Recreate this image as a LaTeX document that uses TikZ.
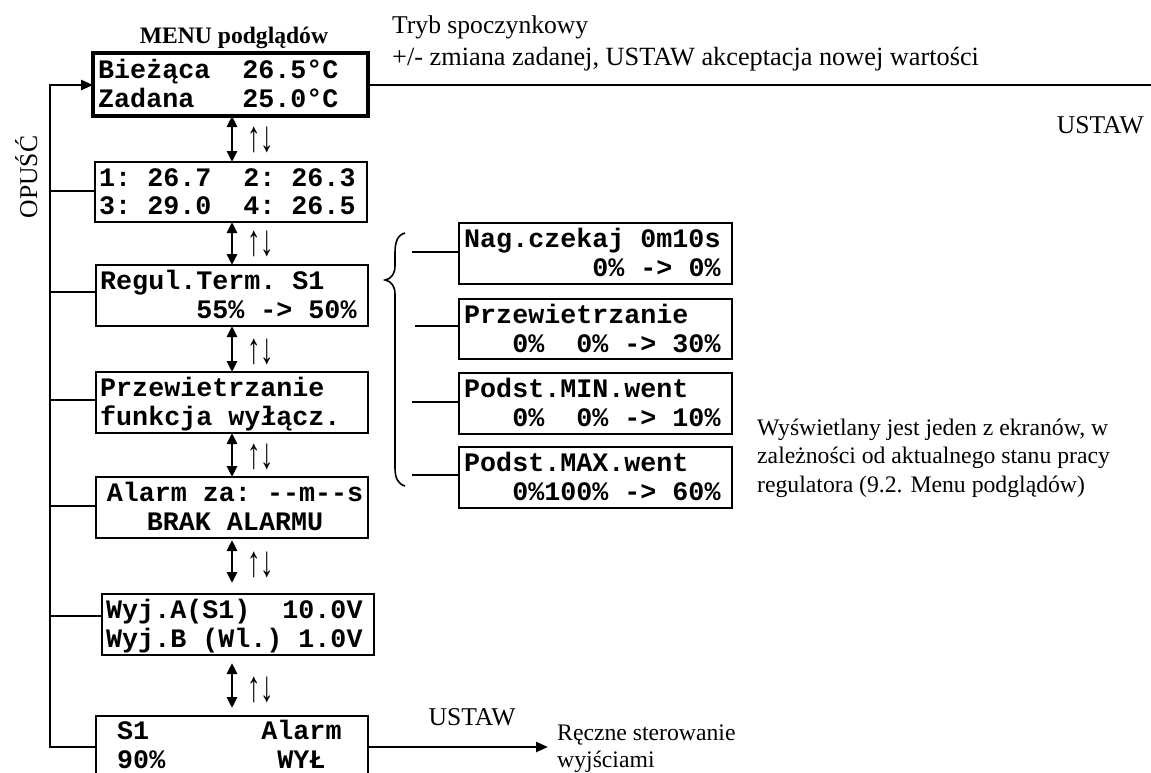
\documentclass[tikz,border=0pt]{standalone}
\usepackage{fontspec}
\setmainfont{Liberation Serif}
\newfontfamily\lcdfam{Liberation Mono}
\usetikzlibrary{arrows.meta}
\newcommand\fsz[1]{\fontsize{#1}{#1}\selectfont}
\newcommand\lcdfont{\lcdfam\bfseries\fontsize{26.7}{29}\selectfont}
\newcommand\updown{\scalebox{1.05}[1.7]{↑↓}}
\begin{document}
\begin{tikzpicture}[x=1pt,y=-1pt,
  lcdbox/.style={draw, line width=2.2pt, inner sep=0, outer sep=0, anchor=north west, minimum height=61pt, minimum width=272pt},
  lcdtxt/.style={font=\lcdfont, inner sep=0, anchor=base west},
  lbl/.style={font=\fsz{25.6}, inner sep=0, anchor=base west},
  small/.style={font=\fsz{23.7}, inner sep=0, anchor=base west},
  bus/.style={line width=2.4pt},
  dbl/.style={line width=2.8pt, {Triangle[length=11pt,width=10pt]}-{Triangle[length=11pt,width=10pt]}},
  updn/.style={font=\fsz{25.6}, inner sep=0, anchor=west},
  tip/.style={-{Triangle[length=12pt,width=10pt]}},
  thin/.style={line width=2pt},
]
\useasboundingbox (0,0) rectangle (1151,772);
\clip (0,0) rectangle (1151,772);

% left column boxes
\node[lcdbox, line width=3.3pt, minimum width=275pt, minimum height=63pt] (b1) at (93,53) {};
\node[lcdtxt] (b1a) at ([shift={(5,25)}]b1.north west) {Bieżąca~~26.5°C};
\node[lcdtxt] (b1b) at ([shift={(5,54)}]b1.north west) {Zadana~~~25.0°C};

\node[lcdbox, minimum height=60pt] (b2) at (95,162) {};
\node[lcdtxt] (b2a) at ([shift={(4,24)}]b2.north west) {1:~26.7~~2:~26.3};
\node[lcdtxt] (b2b) at ([shift={(4,52)}]b2.north west) {3:~29.0~~4:~26.5};

\node[lcdbox] (b3) at (96,265) {};
\node[lcdtxt] (b3a) at ([shift={(4,24)}]b3.north west) {Regul.Term.~S1};
\node[lcdtxt] (b3b) at ([shift={(4,53)}]b3.north west) {~~~~~~55\%~->~50\%};

\node[lcdbox] (b4) at (96,372) {};
\node[lcdtxt] (b4a) at ([shift={(4,24)}]b4.north west) {Przewietrzanie};
\node[lcdtxt] (b4b) at ([shift={(4,53)}]b4.north west) {funkcja~wyłącz.};

\node[lcdbox] (b5) at (96,477) {};
\node[lcdtxt, anchor=base] (b5a) at ([shift={(139,24)}]b5.north west) {Alarm~za:~-{}-m-{}-s};
\node[lcdtxt, anchor=base] (b5b) at ([shift={(139,53)}]b5.north west) {BRAK~ALARMU};

\node[lcdbox] (b6) at (102,594) {};
\node[lcdtxt] (b6a) at ([shift={(4,24)}]b6.north west) {Wyj.A(S1)~~10.0V};
\node[lcdtxt] (b6b) at ([shift={(4,53)}]b6.north west) {Wyj.B~(Wl.)~1.0V};

\node[lcdbox, minimum height=90pt] (b7) at (96,716) {};
\node[lcdtxt] (b7a) at ([shift={(5,23)}]b7.north west) {~S1~~~~~~~Alarm};
\node[lcdtxt] (b7b) at ([shift={(5,52)}]b7.north west) {~90\%~~~~~~~WYŁ};

% right column boxes
\node[lcdbox, minimum width=273pt] (r1) at (459,223) {};
\node[lcdtxt] (r1a) at ([shift={(5,24)}]r1.north west) {Nag.czekaj~0m10s};
\node[lcdtxt] (r1b) at ([shift={(5,53)}]r1.north west) {~~~~~~~~0\%~->~0\%};

\node[lcdbox, minimum width=273pt, minimum height=60pt] (r2) at (459,299) {};
\node[lcdtxt] (r2a) at ([shift={(5,24)}]r2.north west) {Przewietrzanie};
\node[lcdtxt] (r2b) at ([shift={(5,53)}]r2.north west) {~~~0\%~~0\%~->~30\%};

\node[lcdbox, minimum width=273pt] (r3) at (459,373) {};
\node[lcdtxt] (r3a) at ([shift={(5,24)}]r3.north west) {Podst.MIN.went};
\node[lcdtxt] (r3b) at ([shift={(5,53)}]r3.north west) {~~~0\%~~0\%~->~10\%};

\node[lcdbox, minimum width=273pt] (r4) at (459,447) {};
\node[lcdtxt] (r4a) at ([shift={(5,24)}]r4.north west) {Podst.MAX.went};
\node[lcdtxt] (r4b) at ([shift={(5,53)}]r4.north west) {~~~0\%100\%~->~60\%};

% vertical double arrows
\coordinate (ax) at (232,0);
\draw[dbl] (b1.south -| ax) -- (b2.north -| ax);
\draw[dbl] (b2.south -| ax) -- (b3.north -| ax);
\draw[dbl] (b3.south -| ax) -- (b4.north -| ax);
\draw[dbl] (b4.south -| ax) -- (b5.north -| ax);
\draw[dbl, shorten <=2pt, shorten >=11pt] (b5.south -| ax) -- (b6.north -| ax);
\draw[dbl, shorten <=8pt, shorten >=8pt] (b6.south -| ax) -- (b7.north -| ax);
\node[updn] (l1) at (247,140) {\updown};
\node[updn] (l2) at (247,244) {\updown};
\node[updn] (l3) at (247,352) {\updown};
\node[updn] (l4) at (247,457) {\updown};
\node[updn] (l5) at (247,565) {\updown};
\node[updn] (l6) at (247,690) {\updown};

% left bus
\coordinate (top) at (50,85);
\coordinate (bot) at (50,747);
\draw[bus, tip] (bot -| b7.west) -- (bot) -- (top) -- (top -| b1.west);
\coordinate (j2) at (50,191);
\coordinate (j3) at (50,292);
\coordinate (j4) at (50,400);
\coordinate (j5) at (50,506);
\coordinate (j6) at (50,616);
\draw[bus] (j2) -- (j2 -| b2.west);
\draw[bus] (j3) -- (j3 -| b3.west);
\draw[bus] (j4) -- (j4 -| b4.west);
\draw[bus] (j5) -- (j5 -| b5.west);
\draw[bus] (j6) -- (j6 -| b6.west);

% top line and bottom arrow
\coordinate (tr) at (1151,85);
\draw[bus] (top -| b1.east) -- (tr);
\coordinate (re) at (548,747);
\draw[bus, tip] (bot -| b7.east) -- (re);

% brace and links to right boxes
\draw[line width=1.6pt] (405,233) .. controls (397,235) and (395,243) .. (395,253) -- (395,266)
  .. controls (395,274) and (391,279) .. (385,280)
  .. controls (391,281) and (395,286) .. (395,294) -- (395,468)
  .. controls (395,478) and (398,484) .. (405,486);
\coordinate (c1) at (412,252);
\coordinate (c2) at (415,326);
\coordinate (c3) at (412,402);
\coordinate (c4) at (412,475);
\draw[thin] (c1) -- (c1 -| r1.west);
\draw[thin] (c2) -- (c2 -| r2.west);
\draw[thin] (c3) -- (c3 -| r3.west);
\draw[thin] (c4) -- (c4 -| r4.west);

% texts
\node[font=\bfseries\fsz{23.6}, inner sep=0, anchor=base] (menu) at (234,43) {MENU podglądów};
\node[lbl] (t1) at (392,33) {Tryb spoczynkowy};
\node[lbl, font=\fsz{26.3}] (t2) at (392,65) {+/- zmiana zadanej, USTAW akceptacja nowej wartości};
\node[lbl, anchor=base east] (u1) at (1144,133) {USTAW};
\node[lbl, anchor=base, rotate=90] (op) at (37,177) {OPUŚĆ};
\node[lbl, anchor=base] (u2) at (472,725) {USTAW};
\node[small] (rz1) at (557,740) {Ręczne sterowanie};
\node[small] (rz2) at (557,767) {wyjściami};
\node[small] (d1) at (757,435) {Wyświetlany jest jeden z ekranów, w};
\node[small] (d2) at (757,463) {zależności od aktualnego stanu pracy};
\node[small] (d3) at (757,492) {regulatora (9.2. Menu podglądów)};
\end{tikzpicture}
\end{document}
